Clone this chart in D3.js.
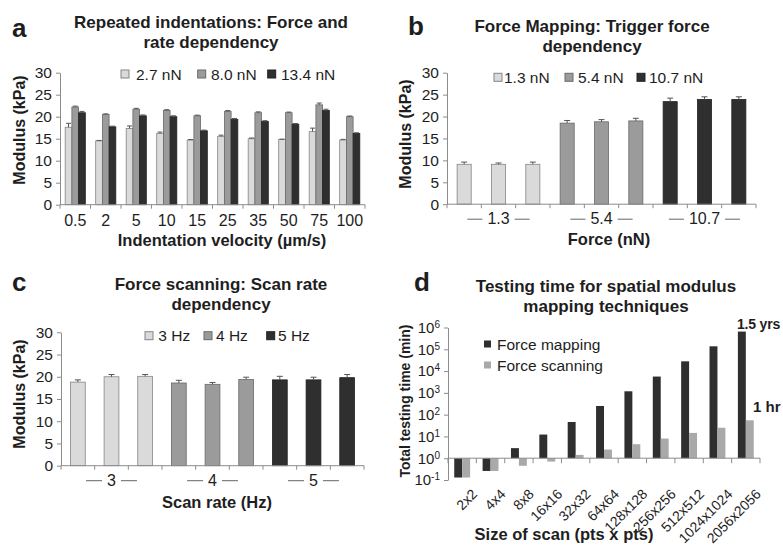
<!DOCTYPE html>
<html>
<head>
<meta charset="utf-8">
<script src="https://cdn.jsdelivr.net/npm/d3@7"></script>
<style>
  body { margin: 0; background: #fff; }
  svg { font-family: "Liberation Sans", Arial, sans-serif; }
</style>
</head>
<body>
<svg id="fig" width="783" height="546"></svg>
<script>
// ---- panel a : repeated indentations
var velocities = ["0.5", "2", "5", "10", "15", "25", "35", "50", "75", "100"];
var forcesA = ["2.7 nN", "8.0 nN", "13.4 nN"];
var a27 = [17.6, 14.5, 17.3, 16.2, 14.7, 15.5, 15.0, 14.8, 16.6, 14.7];
var a80 = [22.2, 20.5, 21.7, 21.4, 20.2, 21.2, 20.9, 20.9, 22.7, 20.0];
var a134 = [20.9, 17.7, 20.2, 20.0, 16.8, 19.4, 18.9, 18.3, 21.4, 16.2];
var a27Err = [0.9, 0.1, 0.6, 0.3, 0.1, 0.3, 0.15, 0.1, 0.8, 0.15];
var a80Err = [0.2, 0.15, 0.2, 0.2, 0.15, 0.2, 0.2, 0.15, 0.4, 0.15];
var a134Err = [0.3, 0.15, 0.2, 0.2, 0.15, 0.2, 0.2, 0.15, 0.3, 0.15];

// ---- panel b : trigger force
var forceGroups = ["1.3", "5.4", "10.7"];
var forcesB = ["1.3 nN", "5.4 nN", "10.7 nN"];
var b13 = [9.1, 9.1, 9.1];
var b54 = [18.5, 18.8, 19.0];
var b107 = [23.4, 23.9, 23.9];
var b13Err = [0.5, 0.3, 0.5];
var b54Err = [0.6, 0.5, 0.6];
var b107Err = [0.8, 0.6, 0.6];

// ---- panel c : scan rate
var rateGroups = ["3", "4", "5"];
var ratesC = ["3 Hz", "4 Hz", "5 Hz"];
var c3 = [18.8, 20.0, 20.1];
var c4 = [18.6, 18.3, 19.4];
var c5 = [19.3, 19.3, 19.8];
var c3Err = [0.5, 0.5, 0.4];
var c4Err = [0.6, 0.4, 0.5];
var c5Err = [0.8, 0.6, 0.7];

// ---- panel d : testing time
var scanSizes = ["2x2", "4x4", "8x8", "16x16", "32x32", "64x64", "128x128", "256x256", "512x512", "1024x1024", "2056x2056"];
var methodsD = ["Force mapping", "Force scanning"];
var mappingTime = [0.13, 0.26, 2.9, 12.2, 46, 250, 1180, 5600, 28000, 137000, 650000];
var scanningTime = [0.13, 0.26, 0.45, 0.7, 1.42, 2.5, 4.4, 8.0, 14.5, 25, 55];

var modTicks = [0, 5, 10, 15, 20, 25, 30];
var logTicks = [0.1, 1, 10, 100, 1000, 10000, 100000, 1000000];

var axisCol = "#8c8c8c";
var textCol = "#1e1e1e";
var fills = ["#dadada", "#9b9b9b", "#2f2f2f"];
var strokes = ["#858585", "#6a6a6a", "#222"];
var fillsD = ["#2f2f2f", "#a9a9a9"];

var svg = d3.select("#fig");

function txt(g, x, y, s, size, bold, anchor) {
  return g.append("text").attr("x", x).attr("y", y).text(s)
    .attr("font-size", size).attr("font-weight", bold ? "bold" : null)
    .attr("text-anchor", anchor || "start").attr("fill", textCol);
}

function yAxis(y, x0, vals, size) {
  var g = svg.append("g").attr("transform", "translate(" + x0 + ",0)")
    .call(d3.axisLeft(y).tickValues(vals).tickSize(4).tickSizeOuter(0).tickPadding(4));
  g.attr("font-family", null).attr("font-size", null);
  g.select(".domain").attr("stroke", axisCol);
  g.selectAll(".tick line").attr("stroke", axisCol);
  g.selectAll(".tick text").attr("font-size", size).attr("fill", textCol);
  return g;
}

// category axis with ticks on the category boundaries
function catAxis(x, y0, p, tick) {
  var r = x.range();
  svg.append("line").attr("x1", r[0]).attr("x2", r[1]).attr("y1", y0).attr("y2", y0)
    .attr("stroke", axisCol);
  var b = x.domain().map(function (d) { return x(d) - x.step() * p / 2; });
  b.push(r[1]);
  svg.selectAll(null).data(b).enter().append("line")
    .attr("x1", function (d) { return d; }).attr("x2", function (d) { return d; })
    .attr("y1", y0).attr("y2", y0 + tick).attr("stroke", axisCol);
}

function errBars(g, pts, y, cap) {
  g.selectAll(null).data(pts).enter().append("path")
    .attr("d", function (d) {
      var t = y(d.v + d.e), b = y(d.v);
      return "M" + d.x + "," + b + "V" + t + "M" + (d.x - cap) + "," + t + "H" + (d.x + cap);
    })
    .attr("stroke", "#555").attr("fill", "none").attr("stroke-width", 1);
}

function legendBox(x, y, i) {
  svg.append("rect").attr("x", x).attr("y", y - 4).attr("width", 8).attr("height", 8)
    .attr("fill", fills[i]).attr("stroke", strokes[i]);
}

// =============== panel a
(function () {
  var p = 0.34;
  var x = d3.scaleBand().domain(velocities).range([60, 365]).paddingInner(p).paddingOuter(p / 2);
  var sub = d3.scaleBand().domain([0, 1, 2]).range([0, x.bandwidth()]);
  var y = d3.scaleLinear().domain([0, 30]).range([204.7, 72.7]);
  var series = [[a27, a27Err], [a80, a80Err], [a134, a134Err]];

  txt(svg, 12, 37, "a", 26, true);
  txt(svg, 211, 28, "Repeated indentations: Force and", 17, true, "middle");
  txt(svg, 211, 48, "rate dependency", 17, true, "middle");

  yAxis(y, 60, modTicks, 15.5);
  var g = svg.append("g");
  series.forEach(function (s, k) {
    var pts = velocities.map(function (v, i) {
      return { x: x(v) + sub(k), v: s[0][i], e: s[1][i] };
    });
    g.selectAll(null).data(pts).enter().append("rect")
      .attr("x", function (d) { return d.x; })
      .attr("y", function (d) { return y(d.v); })
      .attr("width", sub.bandwidth())
      .attr("height", function (d) { return y(0) - y(d.v); })
      .attr("fill", fills[k]).attr("stroke", strokes[k]).attr("stroke-width", 0.8);
    errBars(g, pts.map(function (d) { return { x: d.x + sub.bandwidth() / 2, v: d.v, e: d.e }; }), y, 2.5);
  });
  catAxis(x, 204.7, p, 4);
  svg.selectAll(null).data(velocities).enter().append("text")
    .attr("x", function (d) { return x(d) + x.bandwidth() / 2; }).attr("y", 225.5)
    .attr("text-anchor", "middle").attr("font-size", 16).attr("fill", textCol)
    .text(function (d) { return d; });
  txt(svg, 222, 246, "Indentation velocity (\u00b5m/s)", 16.5, true, "middle");
  txt(svg, 0, 0, "Modulus (kPa)", 16, true, "middle")
    .attr("transform", "translate(25,130) rotate(-90)");

  var lx = [121, 197.7, 267.7], tx = [136, 211, 281];
  forcesA.forEach(function (f, i) {
    legendBox(lx[i], 74, i);
    txt(svg, tx[i], 79.5, f, 15.5);
  });
})();

// replicate bar panels (b and c)
function replicatePanel(opt) {
  var cats = d3.range(9);
  var p = opt.pad;
  var x = d3.scaleBand().domain(cats).range(opt.xr).paddingInner(p).paddingOuter(p / 2);
  var y = d3.scaleLinear().domain([0, 30]).range(opt.yr);
  txt(svg, opt.letter[1], opt.letter[2], opt.letter[0], 26, true);
  txt(svg, opt.tx, opt.ty, opt.title[0], 17, true, "middle");
  txt(svg, opt.tx, opt.ty + 20, opt.title[1], 17, true, "middle");
  yAxis(y, opt.xr[0], modTicks, 15.5);

  var g = svg.append("g");
  var pts = [];
  opt.vals.forEach(function (s, k) {
    s.forEach(function (v, j) {
      pts.push({ c: k * 3 + j, k: k, v: v, e: opt.errs[k][j] });
    });
  });
  g.selectAll(null).data(pts).enter().append("rect")
    .attr("x", function (d) { return x(d.c); })
    .attr("y", function (d) { return y(d.v); })
    .attr("width", x.bandwidth())
    .attr("height", function (d) { return y(0) - y(d.v); })
    .attr("fill", function (d) { return fills[d.k]; })
    .attr("stroke", function (d) { return strokes[d.k]; }).attr("stroke-width", 0.8);
  errBars(g, pts.map(function (d) { return { x: x(d.c) + x.bandwidth() / 2, v: d.v, e: d.e }; }), y, 3);
  catAxis(x, opt.yr[0], p, 4);

  // group labels with dashes either side
  opt.groups.forEach(function (gl, k) {
    var cx = x(k * 3 + 1) + x.bandwidth() / 2;
    var ly = opt.yr[0] + 20;
    var t = txt(svg, cx, ly, gl, 16, false, "middle");
    var w = t.node().getComputedTextLength();
    [[-1], [1]].forEach(function (s) {
      var a = cx + s[0] * (w / 2 + 5), b = cx + s[0] * (w / 2 + 5 + opt.dash);
      svg.append("line").attr("x1", a).attr("x2", b).attr("y1", ly - 5).attr("y2", ly - 5)
        .attr("stroke", "#666").attr("stroke-width", 1);
    });
  });
  txt(svg, opt.xt[0], opt.xt[1], opt.xtitle, 16.5, true, "middle");
  txt(svg, 0, 0, "Modulus (kPa)", 16, true, "middle")
    .attr("transform", "translate(" + opt.yt[0] + "," + opt.yt[1] + ") rotate(-90)");
  opt.legend.forEach(function (l, i) {
    legendBox(opt.lx[i], opt.ly, i);
    txt(svg, opt.ltx[i], opt.ly + 5.5, l, 15.5);
  });
}

replicatePanel({
  letter: ["b", 408, 35], title: ["Force Mapping: Trigger force", "dependency"], tx: 592, ty: 31.5,
  xr: [447, 756], yr: [204.2, 72.7], pad: 0.59,
  vals: [b13, b54, b107], errs: [b13Err, b54Err, b107Err], groups: forceGroups, dash: 15,
  xtitle: "Force (nN)", xt: [609, 245], yt: [411, 134],
  legend: forcesB, lx: [494, 565, 637], ltx: [504, 578, 649], ly: 77.3
});

replicatePanel({
  letter: ["c", 12, 291], title: ["Force scanning: Scan rate", "dependency"], tx: 221, ty: 290,
  xr: [61, 364], yr: [465.7, 332.3], pad: 0.56,
  vals: [c3, c4, c5], errs: [c3Err, c4Err, c5Err], groups: rateGroups, dash: 16,
  xtitle: "Scan rate (Hz)", xt: [217, 508], yt: [25, 394],
  legend: ratesC, lx: [145, 204, 266.7], ltx: [158.3, 216, 278], ly: 335.7
});

// =============== panel d
(function () {
  var p = 0.44;
  var x = d3.scaleBand().domain(scanSizes).range([448, 760]).paddingInner(p).paddingOuter(p / 2);
  var sub = d3.scaleBand().domain([0, 1]).range([0, x.bandwidth()]);
  var y = d3.scaleLog().domain([0.1, 1e6]).range([480, 327.5]);

  txt(svg, 414, 291, "d", 26, true);
  txt(svg, 606, 292, "Testing time for spatial modulus", 17, true, "middle");
  txt(svg, 606, 312, "mapping techniques", 17, true, "middle");

  var ya = yAxis(y, 448, logTicks, 15);
  ya.selectAll(".tick text").each(function (d) {
    var e = Math.round(Math.log10(d));
    var t = d3.select(this).text("10");
    t.append("tspan").attr("dy", "-0.5em").attr("font-size", 10).text(e);
  });

  var g = svg.append("g");
  [mappingTime, scanningTime].forEach(function (s, k) {
    g.selectAll(null).data(scanSizes).enter().append("rect")
      .attr("x", function (d) { return x(d) + sub(k); })
      .attr("y", function (d, i) { return Math.min(y(s[i]), y(1)); })
      .attr("width", sub.bandwidth())
      .attr("height", function (d, i) { return Math.abs(y(1) - y(s[i])); })
      .attr("fill", fillsD[k]);
  });
  catAxis(x, y(1), p, 5);

  svg.selectAll(null).data(scanSizes).enter().append("text")
    .attr("transform", function (d) {
      return "translate(" + (x(d) + x.bandwidth() / 2 + 9) + ",488) rotate(-45)";
    })
    .attr("text-anchor", "end").attr("dy", "0.7em").attr("font-size", 14).attr("fill", textCol)
    .text(function (d) { return d; });

  txt(svg, 564, 540, "Size of scan (pts x pts)", 16.5, true, "middle");
  txt(svg, 0, 0, "Total testing time (min)", 14, true, "middle")
    .attr("transform", "translate(410,401) rotate(-90)");

  txt(svg, 737, 329, "1.5 yrs", 14, true).attr("letter-spacing", -0.2);
  txt(svg, 753, 412, "1 hr", 15, true);

  methodsD.forEach(function (m, i) {
    svg.append("rect").attr("x", 484).attr("y", 340.5 + i * 21).attr("width", 7).attr("height", 7)
      .attr("fill", fillsD[i]);
    txt(svg, 497, 349.5 + i * 21, m, 15.5);
  });
})();
</script>
</body>
</html>
